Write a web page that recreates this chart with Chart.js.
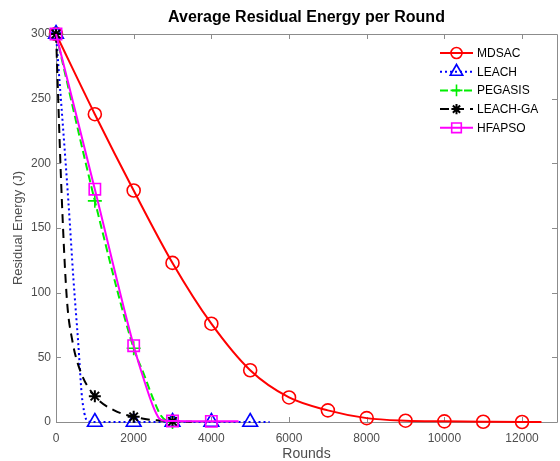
<!DOCTYPE html>
<html>
<head>
<meta charset="utf-8">
<title>Average Residual Energy per Round</title>
<script src="https://cdn.jsdelivr.net/npm/chart.js@4.4.0/dist/chart.umd.min.js"></script>
<style>
    html, body { margin: 0; padding: 0; background: #fff; }
    #wrap { width: 560px; height: 461px; position: relative; }
</style>
</head>
<body>
<div id="wrap"><canvas id="energyChart"></canvas></div>
<script>
// tick labels
const xTicks = [0, 2000, 4000, 6000, 8000, 10000, 12000];
const yTicks = [0, 50, 100, 150, 200, 250, 300];

// series (rounds / residual energy in J)
const mdsacRounds = [0, 1000, 2000, 3000, 4000, 5000, 6000, 7000, 8000, 9000, 10000, 11000, 12000, 12500];
const mdsacEnergy = [300, 238, 179, 123, 76, 40, 19, 9, 3, 1, 0.5, 0.2, 0, 0];

const leachRounds = [0, 320, 450, 575, 660, 730, 800, 1000, 2000, 3000, 4000, 5000, 5500];
const leachEnergy = [300, 170, 110, 60, 22, 7, 1, 0, 0, 0, 0, 0, 0];

const pegasisRounds = [0, 1000, 2000, 2250, 2500, 2700, 2850, 3000];
const pegasisEnergy = [300, 171, 57, 38, 18, 5, 1, 0];

const leachGaRounds = [0, 150, 280, 420, 620, 1000, 1500, 2000, 2500, 3000, 3500];
const leachGaEnergy = [300, 172, 95, 63, 40, 20, 9, 4, 1.5, 0.5, 0.2];

const hfapsoRounds = [0, 1000, 2000, 2250, 2500, 2650, 2800, 3000, 4000, 4700];
const hfapsoEnergy = [300, 180, 59, 34, 12, 3, 1, 0.8, 0.5, 0.5];

const chartTitle = 'Average Residual Energy per Round';

const axisGray = '#8c8c8c';
const labelGray = '#4d4d4d';
const fontFamily = '"Liberation Sans", Arial, Helvetica, sans-serif';

// markers only every 1000 rounds, like MarkerIndices in the original plot
const markerSizes = (rounds, r) => rounds.map(v => v % 1000 === 0 ? r : 0);
const toPoints = (rounds, values) => rounds.map((x, i) => ({ x, y: values[i] }));

const series = [
    { label: 'MDSAC', rounds: mdsacRounds, values: mdsacEnergy, color: '#ff0000', dash: [], style: 'circle', r: 6.5, order: 4 },
    { label: 'LEACH', rounds: leachRounds, values: leachEnergy, color: '#0000ff', dash: [2, 3], style: 'triangle', r: 8.5, order: 3 },
    { label: 'PEGASIS', rounds: pegasisRounds, values: pegasisEnergy, color: '#00ee00', dash: [8, 4], style: 'cross', r: 7, order: 2 },
    { label: 'LEACH-GA', rounds: leachGaRounds, values: leachGaEnergy, color: '#000000', dash: [9, 6], style: 'star', r: 6, order: 1 },
    { label: 'HFAPSO', rounds: hfapsoRounds, values: hfapsoEnergy, color: '#ff00ff', dash: [], style: 'rect', r: 8, order: 0 }
];

// axes box with inward ticks + title centred over the axes (MATLAB look)
const boxPlugin = {
    id: 'matlabBox',
    beforeDatasetsDraw(chart) {
        const { ctx, chartArea: a, scales } = chart;
        const tl = 5;
        ctx.save();
        ctx.strokeStyle = axisGray;
        ctx.lineWidth = 1;
        ctx.beginPath();
        ctx.rect(Math.round(a.left) + 0.5, Math.round(a.top) + 0.5, Math.round(a.right - a.left), Math.round(a.bottom - a.top));
        xTicks.forEach(v => {
            const px = Math.round(scales.x.getPixelForValue(v)) + 0.5;
            ctx.moveTo(px, a.bottom); ctx.lineTo(px, a.bottom - tl);
            ctx.moveTo(px, a.top); ctx.lineTo(px, a.top + tl);
        });
        yTicks.forEach(v => {
            const py = Math.round(scales.y.getPixelForValue(v)) + 0.5;
            ctx.moveTo(a.left, py); ctx.lineTo(a.left + tl, py);
            ctx.moveTo(a.right, py); ctx.lineTo(a.right - tl, py);
        });
        ctx.stroke();

        ctx.fillStyle = '#000';
        ctx.font = 'bold 16px ' + fontFamily;
        ctx.textAlign = 'center';
        ctx.textBaseline = 'middle';
        ctx.fillText(chartTitle, (a.left + a.right) / 2, 18);
        ctx.restore();
    }
};

// legend with line + marker samples
const legendPlugin = {
    id: 'lineMarkerLegend',
    afterDraw(chart) {
        const { ctx, chartArea: a } = chart;
        const x0 = a.right - 117, x1 = a.right - 84, tx = a.right - 80;
        ctx.save();
        ctx.font = '12px ' + fontFamily;
        ctx.textBaseline = 'middle';
        ctx.textAlign = 'left';
        series.forEach((s, i) => {
            const y = a.top + 19 + i * 18.7;
            ctx.strokeStyle = s.color;
            ctx.lineWidth = 2;
            ctx.setLineDash(s.dash);
            ctx.beginPath();
            ctx.moveTo(x0, y); ctx.lineTo(x1, y);
            ctx.stroke();
            ctx.setLineDash([]);
            ctx.fillStyle = 'rgba(0,0,0,0)';
            ctx.lineWidth = s.style === 'star' ? 2 : 1.6;
            Chart.helpers.drawPoint(ctx, { pointStyle: s.style, radius: s.r * 0.85, rotation: 0, borderWidth: ctx.lineWidth }, (x0 + x1) / 2, y);
            ctx.fillStyle = '#000';
            ctx.fillText(s.label, tx, y + 0.5);
        });
        ctx.restore();
    }
};

const ctx = document.getElementById('energyChart');

new Chart(ctx, {
    type: 'line',
    data: {
        datasets: series.map(s => ({
            label: s.label,
            data: toPoints(s.rounds, s.values),
            borderColor: s.color,
            backgroundColor: 'rgba(0,0,0,0)',
            borderWidth: 2,
            borderDash: s.dash,
            cubicInterpolationMode: 'monotone',
            pointStyle: s.style,
            pointRadius: markerSizes(s.rounds, s.r),
            pointBorderColor: s.color,
            pointBackgroundColor: 'rgba(0,0,0,0)',
            pointBorderWidth: s.style === 'star' ? 2 : 1.6,
            fill: false,
            clip: false,
            order: s.order
        }))
    },
    options: {
        responsive: true,
        maintainAspectRatio: false,
        animation: false,
        layout: { autoPadding: false, padding: { top: 34, right: 3, bottom: 0, left: 0 } },
        plugins: {
            legend: { display: false },
            tooltip: { enabled: false },
            title: { display: false }
        },
        scales: {
            x: {
                type: 'linear',
                min: 0,
                max: 12900,
                afterBuildTicks: s => { s.ticks = xTicks.map(value => ({ value })); },
                afterFit: s => { s.height = 39; s.paddingLeft = 0; s.paddingRight = 0; },
                grid: { display: false, drawTicks: false },
                border: { display: false },
                ticks: { color: labelGray, font: { family: fontFamily, size: 12 }, padding: 9, maxRotation: 0, callback: v => String(v) },
                title: { display: true, text: 'Rounds', color: labelGray, font: { family: fontFamily, size: 14 }, padding: { top: 0, bottom: -2 } }
            },
            y: {
                min: 0,
                max: 300,
                afterBuildTicks: s => { s.ticks = yTicks.map(value => ({ value })); },
                afterFit: s => { s.width = 56; s.paddingTop = 0; s.paddingBottom = 0; },
                grid: { display: false, drawTicks: false },
                border: { display: false },
                ticks: { color: labelGray, font: { family: fontFamily, size: 12 }, padding: 5, callback: v => String(v) },
                title: { display: true, text: 'Residual Energy (J)', color: labelGray, font: { family: fontFamily, size: 13 }, padding: { top: 11, bottom: 0 } }
            }
        }
    },
    plugins: [boxPlugin, legendPlugin]
});
</script>
</body>
</html>
